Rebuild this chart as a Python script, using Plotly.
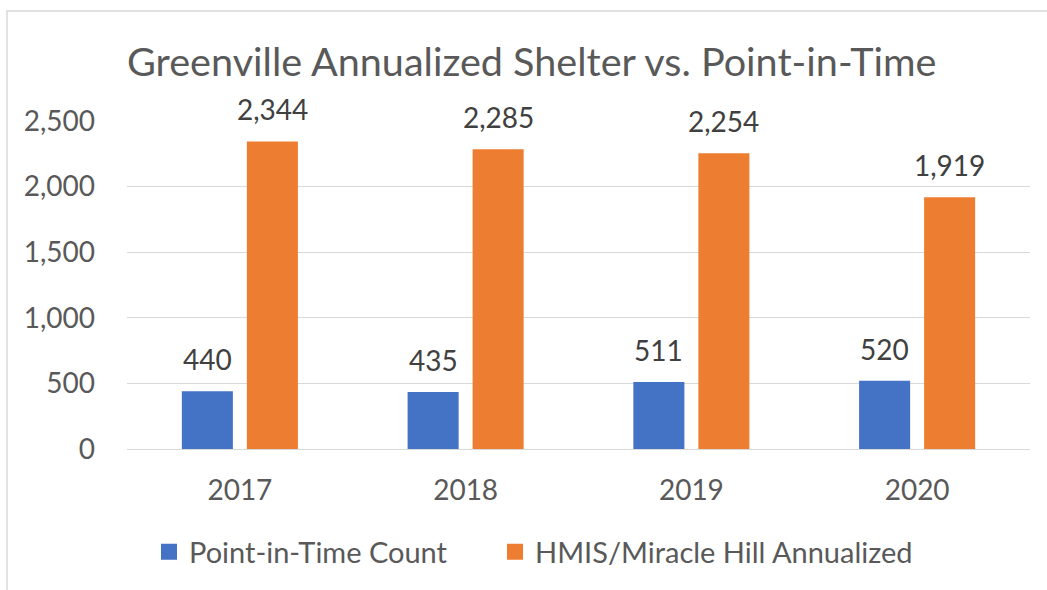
import plotly.graph_objects as go

years = ["2017", "2018", "2019", "2020"]
pit_count = [440, 435, 511, 520]
hmis_annualized = [2344, 2285, 2254, 1919]
series_names = ["Point-in-Time Count", "HMIS/Miracle Hill Annualized"]
colors = ["#4472C4", "#ED7D31"]
series_values = [pit_count, hmis_annualized]

text_color = "#595959"
label_color = "#404040"
font_family = "Lato, 'Open Sans', sans-serif"

W, H = 1047, 590
L, R, T, B = 127, 17, 121, 141
pw, ph = W - L - R, H - T - B
bargap = 0.424
bargroupgap = 0.215

pos = list(range(len(years)))
legend_ids = ["legend", "legend2"]
legend_left_px = [149, 495]

fig = go.Figure()
for name, vals, c in zip(series_names, series_values, colors):
    fig.add_trace(go.Bar(
        x=pos, y=vals, name=name, marker=dict(color=c, line=dict(width=0)),
        showlegend=False, hovertext=years, hoverinfo="text+y",
    ))
# legend entries with larger square swatches (no visible data)
for name, c, lid in zip(series_names, colors, legend_ids):
    fig.add_trace(go.Scatter(
        x=[pos[0]], y=[None], mode="markers", name=name, legend=lid,
        marker=dict(symbol="square", size=16, color=c), hoverinfo="skip",
    ))

# data labels placed through the axes, centred over each bar of the group
slot = (1 - bargap) / len(series_values)
for k, vals in enumerate(series_values):
    off = -(1 - bargap) / 2 + slot * (k + 0.5)
    for p, v in zip(pos, vals):
        fig.add_annotation(
            x=p + off, y=v, xref="x", yref="y", text=f"{v:,}", showarrow=False,
            xanchor="center", yanchor="bottom", yshift=13,
            font=dict(size=28, color=label_color, family=font_family),
        )

legend_common = dict(orientation="h", xref="container", xanchor="left",
                     y=1 - 552 / H, yref="container", yanchor="middle",
                     font=dict(size=29, color=text_color), itemwidth=30,
                     itemsizing="trace", bgcolor="rgba(0,0,0,0)")

fig.update_layout(
    width=W, height=H,
    margin=dict(l=L, r=R, t=T, b=B, pad=0),
    paper_bgcolor="white", plot_bgcolor="white",
    barmode="group", bargap=bargap, bargroupgap=bargroupgap,
    font=dict(family=font_family, color=text_color, size=28),
    title=dict(text="Greenville Annualized Shelter vs. Point-in-Time",
               x=0, xref="paper", xanchor="left",
               y=1 - 62 / H, yref="container", yanchor="middle",
               font=dict(size=39.6, color=text_color, family=font_family)),
    yaxis=dict(range=[0, 2500], dtick=500, tickformat=",", showgrid=True,
               gridcolor="#D9D9D9", gridwidth=1, zeroline=False,
               showline=False, ticks="", ticklabelstandoff=31,
               tickfont=dict(size=28, color=text_color)),
    xaxis=dict(range=[-0.5, len(years) - 0.5], tickvals=pos, ticktext=years,
               showgrid=False, zeroline=False,
               showline=True, linecolor="#D9D9D9", linewidth=1, ticks="",
               ticklabelstandoff=16, tickfont=dict(size=28, color=text_color)),
    legend=dict(x=legend_left_px[0] / W, **legend_common),
    legend2=dict(x=legend_left_px[1] / W, **legend_common),
    showlegend=True,
)

# outer chart border (runs off the right and bottom edges, as in the reference)
fig.add_shape(type="rect", xref="paper", yref="paper",
              x0=(7 - L) / pw, x1=(W + 20 - L) / pw,
              y0=(H - B - (H + 20)) / ph, y1=(H - B - 11) / ph,
              line=dict(color="#D9D9D9", width=1.5), fillcolor="rgba(0,0,0,0)",
              layer="below")

fig.write_html("out.html",
               config={"displayModeBar": False},
               post_script="document.body.style.margin='0';"
                           "document.documentElement.style.overflow='hidden';")
